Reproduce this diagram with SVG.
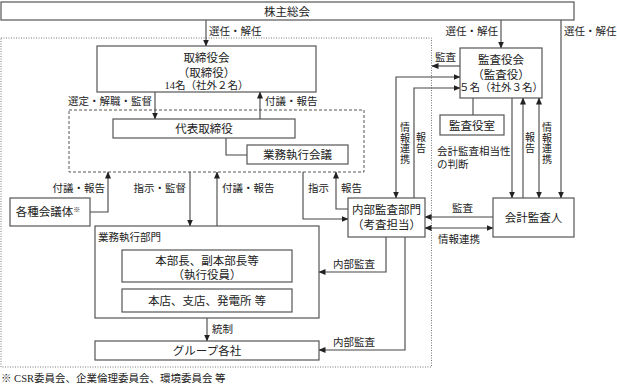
<svg xmlns="http://www.w3.org/2000/svg" width="617" height="392" viewBox="0 0 617 392">
<defs>
<marker id="ah" markerWidth="7" markerHeight="6" refX="6.5" refY="3" orient="auto-start-reverse" markerUnits="userSpaceOnUse">
<path d="M0,0 L7,3 L0,6 Z" fill="#222"/>
</marker>
<style>
.box{fill:#fff;stroke:#555;stroke-width:1.2}
.t{font-family:"Liberation Serif","Noto Sans CJK JP",serif;font-size:11.5px;fill:#222;text-anchor:middle}
.s{font-size:10.5px}
.l{font-family:"Liberation Serif","Noto Sans CJK JP",serif;font-size:10.5px;fill:#222}
.v{font-family:"Liberation Serif","Noto Sans CJK JP",serif;font-size:10px;fill:#222;text-anchor:middle}
.e{text-anchor:end}
.c{fill:none;stroke:#444;stroke-width:1.1}
.a{marker-end:url(#ah)}
.d{marker-start:url(#ah);marker-end:url(#ah)}
</style>
</defs>
<rect x="1" y="38" width="430.5" height="329" fill="none" stroke="#777" stroke-width="1" stroke-dasharray="1,1.5"/>
<rect x="69" y="110" width="295" height="62" fill="none" stroke="#555" stroke-width="1" stroke-dasharray="3,2"/>

<g id="connectors">
<path class="c a" d="M206,20 V46"/>
<text class="l" x="209" y="35">選任・解任</text>
<path class="c a" d="M501,20 V48"/>
<text class="l e" x="498" y="35">選任・解任</text>
<path class="c a" d="M561,20 V198"/>
<text class="l" x="564" y="35">選任・解任</text>
<path class="c a" d="M155,92 V119"/>
<text class="l e" x="152" y="105">選定・解職・監督</text>
<path class="c a" d="M260,119 V92"/>
<text class="l" x="265" y="105">付議・報告</text>
<path class="c" d="M226,138 V155 H247"/>
<path class="c a" d="M90,212 H108 V172"/>
<text class="l e" x="105" y="192">付議・報告</text>
<path class="c a" d="M190,172 V226"/>
<text class="l e" x="186" y="192">指示・監督</text>
<path class="c a" d="M217,226 V172"/>
<text class="l" x="222" y="192">付議・報告</text>
<path class="c a" d="M303,172 V219 H348"/>
<text class="l" x="308" y="192">指示</text>
<path class="c a" d="M348,209 H336 V172"/>
<text class="l" x="341" y="192">報告</text>
<path class="c a" d="M207,318 V341"/>
<text class="l" x="212" y="333">統制</text>
<path class="c a" d="M386,237 V272 H319"/>
<text class="l" x="333" y="268">内部監査</text>
<path class="c a" d="M405,237 V350 H319"/>
<text class="l" x="333" y="346">内部監査</text>
<path class="c a" d="M460,66 H432"/>
<text class="l" x="435" y="61">監査</text>
<path class="c d" d="M396,198 V77 H460"/>
<text class="v" x="405"><tspan x="405" y="131">情</tspan><tspan x="405" y="141.5">報</tspan><tspan x="405" y="152">連</tspan><tspan x="405" y="162.5">携</tspan></text>
<path class="c a" d="M414,198 V88 H460"/>
<text class="v" x="421"><tspan x="421" y="141">報</tspan><tspan x="421" y="151.5">告</tspan></text>
<path class="c" d="M473,98 V115"/>
<path class="c a" d="M512,98 V198"/>
<path class="c a" d="M523,198 V98"/>
<text class="v" x="530"><tspan x="530" y="141">報</tspan><tspan x="530" y="151.5">告</tspan></text>
<path class="c d" d="M539,98 V198"/>
<text class="v" x="547"><tspan x="547" y="131">情</tspan><tspan x="547" y="141.5">報</tspan><tspan x="547" y="152">連</tspan><tspan x="547" y="162.5">携</tspan></text>
<path class="c a" d="M493,217 H425"/>
<text class="l" x="452" y="212">監査</text>
<path class="c d" d="M425,228 H493"/>
<text class="l" x="438" y="243">情報連携</text>
</g>

<g id="n_shareholders"><rect class="box" x="1" y="2" width="573" height="18"/><text class="t" x="287" y="15.5">株主総会</text></g>
<g id="n_board"><rect class="box" x="97" y="46" width="219" height="46"/><text class="t" x="206.5" y="62">取締役会</text><text class="t" x="206.5" y="77">（取締役）</text><text class="t s" x="206.5" y="89">14名（社外２名）</text></g>
<g id="n_rep"><rect class="box" x="113" y="119" width="182" height="19"/><text class="t" x="204" y="133">代表取締役</text></g>
<g id="n_execmeeting"><rect class="box" x="247" y="145" width="101" height="19"/><text class="t" x="297.5" y="159">業務執行会議</text></g>
<g id="n_committees"><rect class="box" x="10" y="198" width="80" height="28"/><text class="t" x="48" y="216">各種会議体<tspan font-size="7" dy="-4">※</tspan></text></g>
<g id="n_execdiv"><rect class="box" x="95" y="226" width="224" height="92"/><text class="l" x="98" y="241" font-size="11">業務執行部門</text>
<rect class="box" x="122" y="250" width="170" height="32"/><text class="t" x="207" y="265">本部長、副本部長等</text><text class="t" x="207" y="279">（執行役員）</text>
<rect class="box" x="122" y="289" width="170" height="23"/><text class="t" x="207" y="305">本店、支店、発電所 等</text></g>
<g id="n_group"><rect class="box" x="95" y="341" width="224" height="19"/><text class="t" x="207" y="355">グループ各社</text></g>
<g id="n_internal"><rect class="box" x="348" y="198" width="77" height="39"/><text class="t" x="386.5" y="214">内部監査部門</text><text class="t" x="386.5" y="229">（考査担当）</text></g>
<g id="n_auditors"><rect class="box" x="460" y="48" width="82" height="50"/><text class="t" x="501" y="64">監査役会</text><text class="t" x="501" y="79">（監査役）</text><text class="t s" x="501" y="91">５名（社外３名）</text></g>
<g id="n_auditoffice"><rect class="box" x="440" y="115" width="64" height="20"/><text class="t" x="472" y="129.5">監査役室</text></g>
<g id="n_note"><text class="l" x="437" y="155">会計監査相当性</text><text class="l" x="437" y="168">の判断</text></g>
<g id="n_accountant"><rect class="box" x="493" y="198" width="81" height="39"/><text class="t" x="533.5" y="222">会計監査人</text></g>
<text class="l" x="1" y="382">※ CSR委員会、企業倫理委員会、環境委員会 等</text>
</svg>
